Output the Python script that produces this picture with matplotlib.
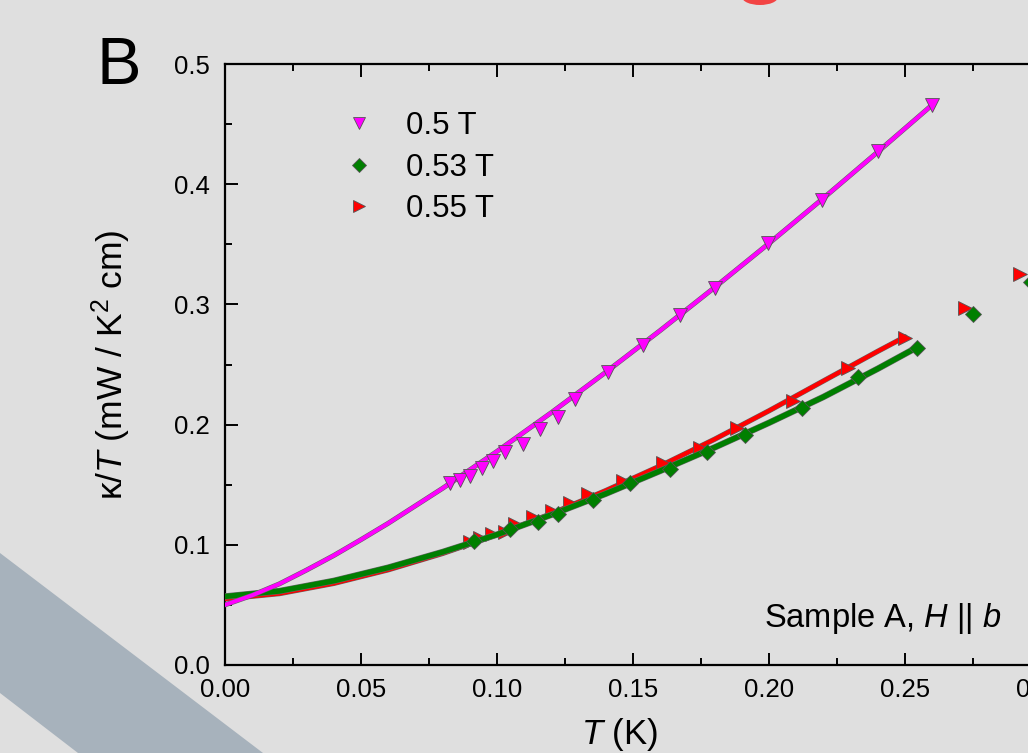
import matplotlib
matplotlib.use("Agg")
import matplotlib.pyplot as plt
from matplotlib.patches import Polygon, Ellipse
import matplotlib.patheffects as pe

plt.rcParams['font.family'] = ['Liberation Sans', 'DejaVu Sans']
plt.rcParams['mathtext.fontset'] = 'custom'
plt.rcParams['mathtext.rm'] = 'Liberation Sans'
plt.rcParams['mathtext.it'] = 'Liberation Sans:italic'

# ---------------- data ----------------
labels = ["0.5 T", "0.53 T", "0.55 T"]

T_05 = [0.0827, 0.0864, 0.0901, 0.0945, 0.0985, 0.1029, 0.1096, 0.1158, 0.1224,
        0.1287, 0.1408, 0.1537, 0.1673, 0.1801, 0.1996, 0.2195, 0.2401, 0.2599]
k_05 = [0.151, 0.154, 0.157, 0.164, 0.170, 0.177, 0.184, 0.196, 0.206,
        0.221, 0.244, 0.266, 0.291, 0.314, 0.351, 0.387, 0.428, 0.466]

T_053 = [0.0915, 0.1048, 0.1151, 0.1224, 0.1353, 0.1489, 0.1636, 0.1772, 0.1912,
         0.2121, 0.2327, 0.2544, 0.2750, 0.2963]
k_053 = [0.103, 0.113, 0.119, 0.126, 0.137, 0.151, 0.163, 0.177, 0.191,
         0.214, 0.240, 0.264, 0.292, 0.3186]

T_055 = [0.0901, 0.0938, 0.0982, 0.1029, 0.1066, 0.1132, 0.1202, 0.1268, 0.1335,
         0.1463, 0.1610, 0.1746, 0.1882, 0.2088, 0.2290, 0.2500, 0.2720, 0.2923]
k_055 = [0.102, 0.106, 0.109, 0.111, 0.117, 0.123, 0.128, 0.135, 0.142,
         0.153, 0.168, 0.1805, 0.197, 0.220, 0.247, 0.272, 0.297, 0.3253]

# fit curves
fitT_05 = [0, 0.01, 0.02, 0.03, 0.04, 0.05, 0.06, 0.08, 0.10, 0.12, 0.14, 0.16, 0.18, 0.20, 0.22, 0.24, 0.26]
fitk_05 = [0.050, 0.0580, 0.0675, 0.0790, 0.0911, 0.1043, 0.1179, 0.1470, 0.1777, 0.2100, 0.2436,
           0.2783, 0.3141, 0.3508, 0.3884, 0.4269, 0.466]

fitT_053 = [0, 0.02, 0.04, 0.06, 0.08, 0.10, 0.12, 0.14, 0.16, 0.18, 0.20, 0.22, 0.24, 0.255]
fitk_053 = [0.057, 0.0615, 0.070, 0.081, 0.094, 0.1085, 0.125, 0.1425, 0.1615, 0.1810, 0.2015, 0.223, 0.2465, 0.265]

fitT_055 = [0, 0.02, 0.04, 0.06, 0.08, 0.10, 0.12, 0.14, 0.16, 0.18, 0.20, 0.22, 0.24, 0.25]
fitk_055 = [0.055, 0.0594, 0.0679, 0.0792, 0.0928, 0.1084, 0.1259, 0.1451, 0.1656, 0.1878, 0.2115, 0.2363, 0.2610, 0.2730]

xticks = [0.00, 0.05, 0.10, 0.15, 0.20, 0.25, 0.30, 0.35]
yticks = [0.0, 0.1, 0.2, 0.3, 0.4, 0.5]

# ---------------- figure ----------------
W, H = 1028, 753
bg = '#dfdfdf'
fig = plt.figure(figsize=(W / 100, H / 100), dpi=100, facecolor=bg)

# decorative diagonal band and red fragment
band = Polygon([(0, 1 - 553 / H), (263 / W, 0), (78 / W, 0), (0, 1 - 693 / H)],
               closed=True, transform=fig.transFigure, facecolor='#a7b2bc',
               edgecolor='none', zorder=0)
fig.patches.append(band)
blob = Ellipse((760 / W, 1 + 3 / H), 36 / W, 16 / H, transform=fig.transFigure,
               facecolor='#f24444', edgecolor='none', zorder=0)
fig.patches.append(blob)

xmax = 0.35
px_per_T = 2720
left_px, top_px, bot_px = 225, 64, 665
ax_w_px = xmax * px_per_T
ax_h_px = bot_px - top_px
ax = fig.add_axes([left_px / W, 1 - bot_px / H, ax_w_px / W, ax_h_px / H])
ax.set_facecolor('none')
ax.set_xlim(0, xmax)
ax.set_ylim(0, 0.5)

edge = '#555555'
def outline(lw):
    return [pe.Stroke(linewidth=lw + 0.8, foreground='#666666'), pe.Normal()]

# red
ax.plot(fitT_055, fitk_055, color='#ff0000', lw=3.0, zorder=3, solid_capstyle='round',
        path_effects=outline(3.0))
ax.plot(T_055, k_055, ls='none', marker='>', ms=10.5, color='#ff0000', mec=edge, mew=0.6,
        zorder=4, label=labels[2])
# green
ax.plot(fitT_053, fitk_053, color='#007f00', lw=3.8, zorder=5, solid_capstyle='round',
        path_effects=outline(3.8))
ax.plot(T_053, k_053, ls='none', marker='D', ms=8.5, color='#007f00', mec=edge, mew=0.6,
        zorder=6, label=labels[1])
# magenta
ax.plot(fitT_05, fitk_05, color='#ff00ff', lw=2.8, zorder=7, solid_capstyle='round',
        path_effects=outline(2.8))
ax.plot(T_05, k_05, ls='none', marker='v', ms=10.5, color='#ff00ff', mec=edge, mew=0.6,
        zorder=8, label=labels[0])

# axes styling
for s in ax.spines.values():
    s.set_linewidth(1.6)
    s.set_color('black')
ax.set_xticks(xticks)
ax.set_xticklabels([f"{t:.2f}" for t in xticks])
ax.set_yticks(yticks)
ax.set_yticklabels([f"{t:.1f}" for t in yticks])
ax.set_xticks([0.025 + 0.05 * i for i in range(7)], minor=True)
ax.set_yticks([0.05 + 0.1 * i for i in range(5)], minor=True)
ax.tick_params(which='both', direction='in', top=True, right=True, width=1.4, color='black')
ax.tick_params(which='major', length=9, labelsize=18.5)
ax.tick_params(axis='x', which='major', pad=9.5)
ax.tick_params(axis='y', which='major', pad=11)
ax.tick_params(which='minor', length=5)

ax.set_xlabel(r'$T$ (K)', fontsize=25, va='baseline')
ax.xaxis.set_label_coords((620 - left_px) / ax_w_px, (bot_px - 744) / ax_h_px)
ax.set_ylabel(r'κ/$T$ (mW / K$^2$ cm)', fontsize=25.5)
ax.yaxis.set_label_coords(-(left_px - 133) / ax_w_px, 0.5)

# legend
handles, labs = ax.get_legend_handles_labels()
order = [2, 1, 0]
leg = ax.legend([handles[i] for i in order], [labs[i] for i in order],
                loc='upper left', bbox_to_anchor=((328 - left_px) / ax_w_px, 0.942),
                frameon=False, fontsize=22.5, handlelength=1.2, handletextpad=0.9,
                labelspacing=0.36, borderaxespad=0, markerscale=0.85)

ax.text(0.2855, 0.032, r'Sample A, $H$ || $b$', fontsize=23.5, ha='right', va='baseline', zorder=9)

fig.text(96 / W, 1 - 84 / H, 'B', fontsize=48, ha='left', va='baseline')

fig.savefig('out.png', dpi=100, facecolor=bg)
